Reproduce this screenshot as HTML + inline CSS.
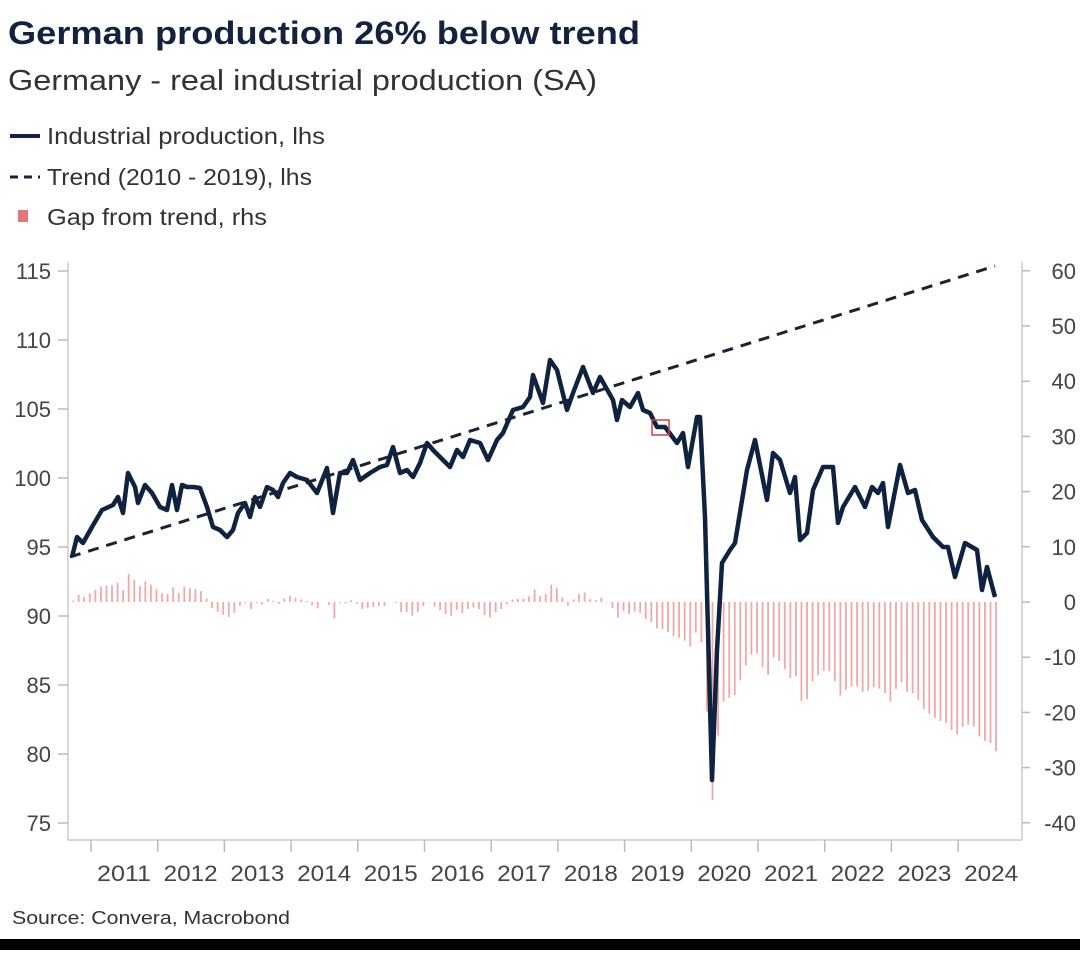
<!DOCTYPE html>
<html><head><meta charset="utf-8"><style>
body{margin:0;background:#fff;width:1080px;height:950px;overflow:hidden;font-family:"Liberation Sans",sans-serif;}
</style></head><body>
<svg id="s" width="1080" height="950" xmlns="http://www.w3.org/2000/svg" font-family="Liberation Sans, sans-serif">
<text x="8" y="44" font-size="32" font-weight="bold" fill="#13233f" textLength="632" lengthAdjust="spacingAndGlyphs">German production 26% below trend</text>
<text x="8" y="90" font-size="29" fill="#333" textLength="589" lengthAdjust="spacingAndGlyphs">Germany - real industrial production (SA)</text>
<line x1="10" y1="136" x2="40" y2="136" stroke="#13233f" stroke-width="4"/>
<text x="47" y="144" font-size="23" fill="#333" textLength="278" lengthAdjust="spacingAndGlyphs">Industrial production, lhs</text>
<line x1="10" y1="177" x2="40" y2="177" stroke="#13233f" stroke-width="3" stroke-dasharray="8,6"/>
<text x="47" y="185" font-size="23" fill="#333" textLength="265" lengthAdjust="spacingAndGlyphs">Trend (2010 - 2019), lhs</text>
<rect x="18" y="210" width="10" height="12" fill="#e07a7a"/>
<text x="47" y="225" font-size="23" fill="#333" textLength="220" lengthAdjust="spacingAndGlyphs">Gap from trend, rhs</text>
<g stroke="#ccc" stroke-width="1.5">
<line x1="68" y1="262" x2="68" y2="840"/>
<line x1="1022" y1="262" x2="1022" y2="840"/>
<line x1="68" y1="840" x2="1022" y2="840"/>
</g>
<g id="ticks" stroke="#bbb" stroke-width="1.5"></g>
<g font-size="22" fill="#444" id="lab"></g>
<g id="bars" fill="#f0a8a8"></g>
<line x1="70" y1="557" x2="995" y2="266" stroke="#1a2233" stroke-width="3" stroke-dasharray="11,8"/>
<polyline id="ip" fill="none" stroke="#0f2340" stroke-width="4.5" stroke-linejoin="round" points="72,557 77,537 83,543 92,527 102,510 113,505 118,497 123,513 128,473 135,487 138,503 145,485 152,493 160,507 167,510 172,485 177,510 182,485 187,487 193,487 200,488 207,507 213,527 220,530 227,537 233,530 238,513 245,503 250,517 255,497 260,507 267,487 273,490 278,497 283,483 290,473 297,477 307,480 317,493 327,468 333,513 340,473 347,473 353,460 360,480 370,473 380,467 387,465 393,447 400,473 407,470 413,477 420,463 427,443 433,450 440,457 450,467 457,450 463,457 470,440 480,443 488,460 497,440 503,433 513,410 523,407 530,397 533,375 543,403 550,360 557,370 567,410 573,393 583,367 593,393 600,377 613,400 617,420 622,400 630,407 638,393 643,410 650,413 657,427 665,427 677,443 683,433 688,467 697,417 700,417 705,517 712,780 717,650 722,563 730,550 735,543 747,470 755,440 767,500 773,453 780,460 790,493 795,477 800,540 807,533 813,490 823,467 833,467 838,523 843,507 855,487 865,507 872,487 878,493 883,483 888,527 900,465 908,493 915,490 922,520 933,537 943,547 948,547 955,577 965,543 977,550 982,590 987,567 995,597"/>
<rect x="652" y="420" width="17" height="15" fill="none" stroke="#d04040" stroke-width="1.5"/>
<text x="12" y="924" font-size="18" fill="#333" textLength="278" lengthAdjust="spacingAndGlyphs">Source: Convera, Macrobond</text>
<rect x="0" y="939" width="1080" height="11" fill="#000"/>
</svg>
<script>
var ns="http://www.w3.org/2000/svg";
function el(p,t,a,txt){var e=document.createElementNS(ns,t);for(var k in a)e.setAttribute(k,a[k]);if(txt)e.textContent=txt;document.getElementById(p).appendChild(e);}
for(var v=75;v<=115;v+=5){var y=271+(115-v)*13.8;el('ticks','line',{x1:58,y1:y,x2:68,y2:y});el('lab','text',{x:51,y:y+8,'text-anchor':'end'},String(v));}
for(var v=-40;v<=60;v+=10){var y=602-v*5.52;el('ticks','line',{x1:1022,y1:y,x2:1030,y2:y});el('lab','text',{x:1076,y:y+8,'text-anchor':'end'},String(v));}
for(var i=0;i<14;i++){var x=91+i*66.7;el('ticks','line',{x1:x,y1:840,x2:x,y2:852});el('lab','text',{x:x+33,y:881,'text-anchor':'middle',textLength:54,lengthAdjust:'spacingAndGlyphs'},String(2011+i));}
var pts=document.getElementById('ip').getAttribute('points').trim().split(/\s+/).map(function(s){return s.split(',').map(Number)});
function ipAt(x){for(var i=1;i<pts.length;i++){if(pts[i][0]>=x){var a=pts[i-1],b=pts[i];var t=(x-a[0])/(b[0]-a[0]||1);return a[1]+t*(b[1]-a[1]);}}return pts[pts.length-1][1];}
for(var x=73;x<=996;x+=5.56){var yi=ipAt(x);var IP=115-(yi-271)/13.8;var ty=557-(x-70)/925*291;var T=115-(ty-271)/13.8;var g=(IP/T-1)*100*1.3;if(g>0)g*=0.8;var h=g*5.52;
el('bars','rect',{x:x-0.8,y:h>0?602-h:602,width:1.8,height:Math.abs(h)});}
</script>
</body></html>
